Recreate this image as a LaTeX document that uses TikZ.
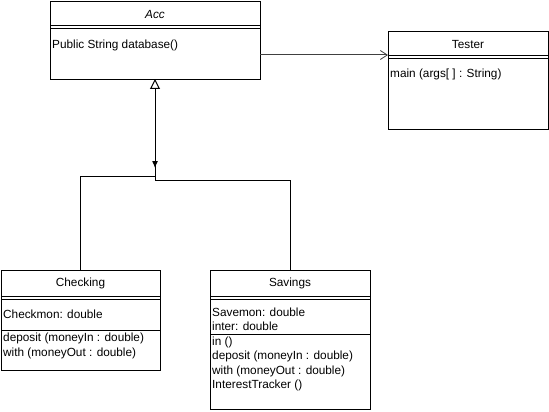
\documentclass[tikz,border=0pt]{standalone}
\usepackage{fontspec}
\setmainfont{Liberation Sans}
\usetikzlibrary{arrows.meta}
\begin{document}
\begin{tikzpicture}[x=1pt,y=-1pt,
  box/.style={draw,line width=1pt},
  sep/.style={line width=1pt},
  txt/.style={inner sep=0pt,anchor=west,font=\fontsize{11.8}{14}\selectfont},
  ttl/.style={inner sep=0pt,font=\fontsize{11.8}{14}\selectfont},
  wire/.style={line width=1pt}]
\useasboundingbox[fill=white] (0,0) rectangle (549,412);
% Acc
\node[box,minimum width=210pt,minimum height=78pt,anchor=north west,inner sep=0pt] (acc) at (50,1) {};
\draw[sep] (50,26) -- (260,26) (50,29) -- (260,29);
\node[ttl,font=\fontsize{11.8}{14}\selectfont\itshape] (acct) at (155,14) {Acc};
\node[txt] (acc1) at (52,45) {Public String database()};
% Tester
\node[box,minimum width=160pt,minimum height=98pt,anchor=north west,inner sep=0pt] (tes) at (388,31) {};
\draw[sep] (388,56) -- (548,56) (388,59) -- (548,59);
\node[ttl] (test) at (468,44) {Tester};
\node[txt] (tes1) at (390,74) {main (args[ ] : String)};
% Checking
\node[box,minimum width=159pt,minimum height=100pt,anchor=north west,inner sep=0pt] (chk) at (1,270) {};
\draw[sep] (1,296) -- (160,296) (1,299) -- (160,299) (1,330) -- (160,330);
\node[ttl] (chkt) at (80.5,283) {Checking};
\node[txt] (chk1) at (3,314) {Checkmon: double};
\node[txt] (chk2) at (3,338) {deposit (moneyIn : double)};
\node[txt] (chk3) at (3,353) {with (moneyOut : double)};
% Savings
\node[box,minimum width=160pt,minimum height=139pt,anchor=north west,inner sep=0pt] (sav) at (210,270) {};
\draw[sep] (210,296) -- (370,296) (210,299) -- (370,299) (210,334) -- (370,334);
\node[ttl] (savt) at (290,283) {Savings};
\node[txt] (sav1) at (212,312) {Savemon: double};
\node[txt] (sav2) at (212,326) {inter: double};
\node[txt] (sav3) at (212,342) {in ()};
\node[txt] (sav4) at (212,356) {deposit (moneyIn : double)};
\node[txt] (sav5) at (212,371) {with (moneyOut : double)};
\node[txt] (sav6) at (212,385) {InterestTracker ()};
% connectors
\coordinate (accb) at (155,79);
\coordinate (j1) at (155,176);
\coordinate (j2) at (155,180);
\coordinate (a0) at (155,150);
\coordinate (a1) at (155,168);
\draw[wire,draw=black!75,-{Straight Barb[length=7pt,width=9pt,line width=0.8pt]}] (260,55) -- (388,55);
\draw[wire,-{Triangle[open,length=10pt,width=10pt]}] (j1) -- (accb);
\draw[wire,-{Latex[length=7pt,width=6pt]}] (a0) -- (a1);
\draw[wire] (chk.north -| 80,0) |- (j1);
\draw[wire] (sav.north) |- (j2) -- (j1);
\end{tikzpicture}
\end{document}
